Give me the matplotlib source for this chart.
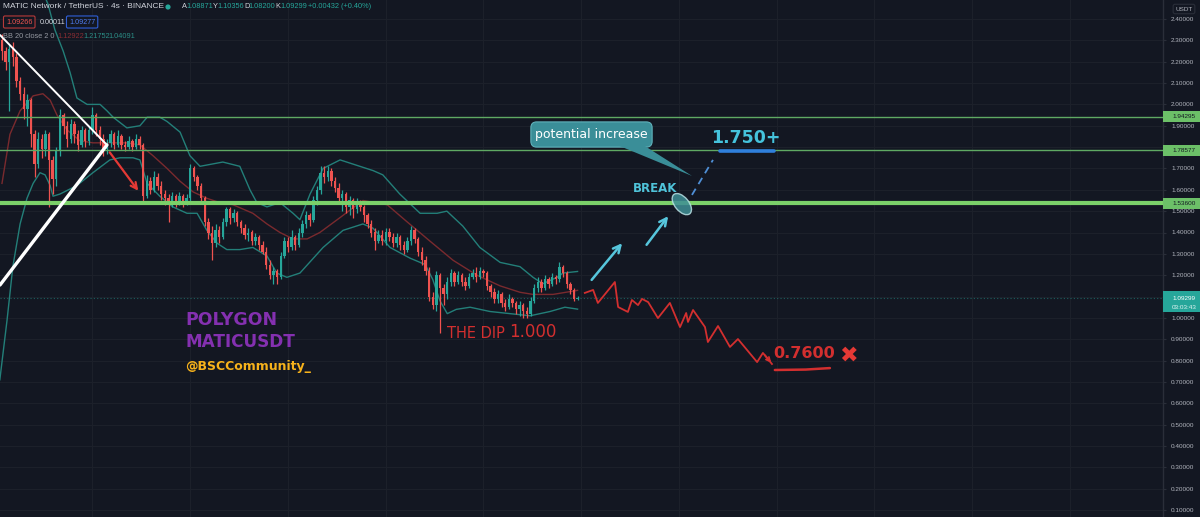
import matplotlib
matplotlib.use('Agg')
import matplotlib.pyplot as plt
import matplotlib.patches as mpatches
import matplotlib.transforms as mtransforms
import numpy as np

W, H, DPI = 1200, 517, 100
PLOT_W = 1163
BG = '#131722'
GREEN_C = '#26a69a'
RED_C = '#ef5350'
UI_FONT = ['Liberation Sans', 'DejaVu Sans']

# ---------------- data (4h candles, MATICUSDT) ----------------
OPEN0 = 2.30
CLOSE = [2.25, 2.20, 2.26, 2.22, 2.11, 2.05, 1.98, 2.02, 1.86, 1.72,
         1.84, 1.79, 1.86, 1.74, 1.65, 1.78, 1.95, 1.90, 1.84, 1.91,
         1.86, 1.81, 1.88, 1.83, 1.88, 1.95, 1.88, 1.84, 1.79, 1.82,
         1.86, 1.81, 1.85, 1.81, 1.80, 1.83, 1.80, 1.84, 1.81, 1.57,
         1.64, 1.60, 1.66, 1.62, 1.58, 1.56, 1.53, 1.57, 1.54, 1.57,
         1.54, 1.56, 1.70, 1.66, 1.62, 1.56, 1.45, 1.40, 1.35, 1.41,
         1.38, 1.45, 1.51, 1.47, 1.49, 1.45, 1.42, 1.39, 1.40, 1.36,
         1.38, 1.34, 1.31, 1.25, 1.20, 1.22, 1.19, 1.29, 1.36, 1.33,
         1.38, 1.34, 1.40, 1.44, 1.48, 1.46, 1.55, 1.60, 1.68, 1.66,
         1.69, 1.64, 1.61, 1.56, 1.58, 1.52, 1.55, 1.51, 1.54, 1.52,
         1.48, 1.44, 1.40, 1.36, 1.39, 1.36, 1.40, 1.38, 1.35, 1.38,
         1.34, 1.32, 1.36, 1.41, 1.37, 1.31, 1.27, 1.22, 1.10, 1.06,
         1.20, 1.14, 1.11, 1.17, 1.21, 1.17, 1.20, 1.17, 1.15, 1.19,
         1.21, 1.19, 1.22, 1.21, 1.15, 1.12, 1.09, 1.11, 1.07, 1.05,
         1.09, 1.07, 1.04, 1.06, 1.03, 1.02, 1.08, 1.14, 1.17, 1.14,
         1.18, 1.16, 1.19, 1.18, 1.24, 1.21, 1.16, 1.13, 1.0887, 1.09299]
HIGH = [2.33, 2.27, 2.28, 2.29, 2.24, 2.13, 2.08, 2.05, 2.03, 1.88,
        1.87, 1.86, 1.88, 1.87, 1.76, 1.80, 1.98, 1.96, 1.92, 1.93,
        1.92, 1.88, 1.90, 1.89, 1.90, 1.99, 1.96, 1.90, 1.86, 1.84,
        1.88, 1.87, 1.88, 1.86, 1.83, 1.85, 1.84, 1.86, 1.85, 1.82,
        1.67, 1.66, 1.69, 1.68, 1.64, 1.60, 1.58, 1.59, 1.58, 1.59,
        1.58, 1.58, 1.72, 1.71, 1.67, 1.63, 1.57, 1.47, 1.43, 1.44,
        1.43, 1.47, 1.52, 1.52, 1.51, 1.50, 1.46, 1.44, 1.42, 1.41,
        1.40, 1.39, 1.36, 1.33, 1.27, 1.24, 1.23, 1.31, 1.38, 1.38,
        1.41, 1.39, 1.42, 1.46, 1.50, 1.49, 1.57, 1.62, 1.71, 1.71,
        1.71, 1.70, 1.66, 1.63, 1.60, 1.59, 1.57, 1.56, 1.56, 1.55,
        1.53, 1.49, 1.46, 1.42, 1.41, 1.41, 1.42, 1.42, 1.40, 1.40,
        1.39, 1.36, 1.38, 1.43, 1.42, 1.38, 1.33, 1.29, 1.24, 1.12,
        1.22, 1.21, 1.16, 1.19, 1.23, 1.22, 1.22, 1.21, 1.19, 1.21,
        1.23, 1.24, 1.24, 1.23, 1.22, 1.16, 1.14, 1.13, 1.12, 1.09,
        1.11, 1.10, 1.08, 1.08, 1.07, 1.05, 1.10, 1.16, 1.19, 1.18,
        1.20, 1.19, 1.21, 1.20, 1.26, 1.25, 1.22, 1.17, 1.14, 1.10356]
LOW = [2.21, 2.16, 1.97, 2.18, 2.08, 2.02, 1.93, 1.90, 1.80, 1.66,
       1.70, 1.75, 1.76, 1.52, 1.58, 1.62, 1.76, 1.86, 1.80, 1.82,
       1.82, 1.78, 1.80, 1.80, 1.81, 1.86, 1.85, 1.81, 1.76, 1.77,
       1.80, 1.79, 1.80, 1.79, 1.78, 1.79, 1.78, 1.79, 1.79, 1.54,
       1.56, 1.58, 1.59, 1.60, 1.55, 1.53, 1.45, 1.52, 1.52, 1.53,
       1.52, 1.53, 1.54, 1.64, 1.60, 1.54, 1.43, 1.37, 1.27, 1.33,
       1.35, 1.37, 1.43, 1.44, 1.45, 1.43, 1.40, 1.37, 1.36, 1.34,
       1.34, 1.32, 1.30, 1.23, 1.18, 1.16, 1.16, 1.18, 1.28, 1.31,
       1.32, 1.32, 1.33, 1.38, 1.42, 1.43, 1.45, 1.53, 1.58, 1.63,
       1.64, 1.62, 1.59, 1.54, 1.50, 1.49, 1.48, 1.47, 1.49, 1.50,
       1.45, 1.42, 1.38, 1.32, 1.35, 1.34, 1.34, 1.36, 1.33, 1.33,
       1.32, 1.30, 1.31, 1.34, 1.35, 1.29, 1.25, 1.20, 1.08, 1.04,
       1.03, 0.93, 1.06, 1.09, 1.15, 1.15, 1.16, 1.15, 1.13, 1.14,
       1.18, 1.17, 1.18, 1.19, 1.13, 1.10, 1.07, 1.07, 1.05, 1.03,
       1.04, 1.05, 1.02, 1.01, 1.00, 1.00, 1.01, 1.07, 1.12, 1.12,
       1.13, 1.14, 1.15, 1.16, 1.17, 1.19, 1.14, 1.11, 1.08, 1.082]

# Bollinger Bands (20, close, 2): (candle index, price)
BB_UP_X = [9.5, 12.7, 14.6, 16.9, 18.8, 20.7, 23.5, 27.1, 29.0, 30.7, 34.5, 38.1, 40.1,
           43.6, 45.6, 49.2, 51.9, 54.7, 61.0, 65.7, 68.5, 70.4, 73.2, 76.8, 80.4, 82.3,
           85.1, 88.7, 93.4, 102.5, 105.2, 109.9, 115.5, 120.2, 122.9, 127.3, 132.0,
           137.6, 143.1, 146.7, 149.4, 153.3, 155.0, 159.0]
BB_UP_Y = [2.60, 2.47, 2.35, 2.25, 2.15, 2.03, 2.00, 2.00, 1.97, 1.94, 1.89, 1.90, 1.94,
           1.94, 1.92, 1.87, 1.76, 1.71, 1.73, 1.71, 1.60, 1.54, 1.52, 1.54, 1.49, 1.46,
           1.58, 1.70, 1.74, 1.69, 1.67, 1.58, 1.49, 1.49, 1.50, 1.43, 1.33,
           1.26, 1.24, 1.19, 1.16, 1.19, 1.21, 1.2175]
BB_MID_X = [0, 2.2, 5.0, 8.6, 11.3, 13.3, 15.2, 18.0, 21.5, 25.1, 29.8, 34.5, 38.1, 41.7,
            45.6, 49.2, 52.8, 56.6, 60.2, 63.8, 69.3, 73.2, 76.8, 80.4, 84.3, 87.8, 93.4,
            99.7, 106.4, 111.9, 118.2, 124.6, 131.2, 137.6, 143.1, 146.7, 152.2, 159.0]
BB_MID_Y = [1.63, 1.86, 1.97, 2.04, 2.05, 2.02, 1.95, 1.88, 1.83, 1.82, 1.82, 1.82, 1.81, 1.76,
            1.70, 1.64, 1.59, 1.56, 1.54, 1.53, 1.49, 1.44, 1.40, 1.37, 1.37, 1.40, 1.47,
            1.55, 1.53, 1.45, 1.36, 1.27, 1.20, 1.15, 1.12, 1.11, 1.11, 1.129]
BB_LO_X = [-0.6, 1.4, 3.0, 5.0, 6.9, 8.6, 10.5, 11.9, 13.3, 14.1, 16.0, 20.7, 25.1, 29.8,
           32.6, 36.2, 38.1, 40.1, 43.6, 47.2, 51.1, 53.9, 56.6, 59.4, 62.1, 65.7, 69.3,
           73.2, 75.9, 78.7, 82.3, 88.7, 94.2, 99.7, 102.5, 107.2, 112.7, 116.9, 119.0,
           121.0, 123.0, 125.5, 129.3, 134.8, 140.3, 145.9, 151.4, 155.5, 159.0]
BB_LO_Y = [0.71, 0.99, 1.24, 1.44, 1.56, 1.63, 1.68, 1.67, 1.62, 1.57, 1.58, 1.62, 1.68, 1.74,
           1.75, 1.75, 1.74, 1.63, 1.57, 1.52, 1.49, 1.49, 1.41, 1.35, 1.32, 1.32, 1.33,
           1.29, 1.21, 1.19, 1.21, 1.33, 1.41, 1.44, 1.42, 1.33, 1.28, 1.25, 1.18,
           1.08, 1.02, 1.04, 1.05, 1.03, 1.02, 1.01, 1.03, 1.05, 1.041]

# horizontal levels
LEVELS = [1.94295, 1.78577, 1.536]
LEVEL_WIDTHS = [1.0, 1.0, 3.0]
LEVEL_COLORS = ['#5fa963', '#5fa963', '#7bd069']
LAST_PRICE = 1.09299
COUNTDOWN = '03:03:43'

YTICKS = [0.1, 0.2, 0.3, 0.4, 0.5, 0.6, 0.7, 0.8, 0.9, 1.0, 1.1, 1.2,
          1.3, 1.4, 1.5, 1.6, 1.7, 1.8, 1.9, 2.0, 2.1, 2.2, 2.3, 2.4]
HIDDEN_TICKS = [1.1, 1.8]   # covered by the price labels on the scale
VGRID = [25, 52, 79, 106, 133, 160, 187, 214, 241, 268, 295, 322]

# drawings (candle index, price)
TRI_DOWN_X, TRI_DOWN_Y = [-0.55, 29.0], [2.325, 1.81]
TRI_UP_X, TRI_UP_Y = [-0.55, 29.0], [1.154, 1.81]
RED_ARROW = [(29.3, 1.786), (38.1, 1.585)]
PROJ_X = [161.0, 163.3, 164.6, 169.3, 170.2, 172.9, 174.0, 175.7, 176.8, 178.5, 181.2,
          184.5, 187.3, 189.0, 189.5, 190.9, 194.2, 195.0, 197.8, 201.1, 203.3, 208.6,
          210.2, 212.7]
PROJ_Y = [1.117, 1.131, 1.070, 1.168, 1.051, 1.028, 1.084, 1.060, 1.089, 1.074, 0.999,
          1.070, 0.957, 1.023, 0.981, 1.037, 0.957, 0.887, 0.962, 0.864, 0.901, 0.793,
          0.836, 0.784]
UP_ARROWS = [((162.4, 1.168), (171.8, 1.360)), ((177.6, 1.332), (184.5, 1.487))]
BREAK_DASH_X, BREAK_DASH_Y = [190.6, 196.4], [1.576, 1.740]
BREAK_CENTER = (187.8, 1.533)
CALLOUT_BOX = (146.1, 1.800, 33.5, 0.118)   # x, y, width, height
CALLOUT_TAIL = [(170.5, 1.806), (177.5, 1.806), (190.6, 1.665)]
TARGET_UP = (196.0, 1.843)
TARGET_UP_LINE_X, TARGET_UP_LINE_Y = [198.3, 213.3], [1.780, 1.780]
TARGET_DN = (213.0, 0.831)
TARGET_DN_LINE_X, TARGET_DN_LINE_Y = [213.5, 222.0, 228.7], [0.756, 0.758, 0.765]

# ---------------- figure ----------------
fig = plt.figure(figsize=(W / DPI, H / DPI), dpi=DPI, facecolor=BG)
ax = fig.add_axes([0, 0, PLOT_W / W, 1])
ax.set_facecolor(BG)
XMIN = -0.55
XMAX = XMIN + PLOT_W / 3.62
YMAX = 2.40 + 19 / 213.5
YMIN = 2.40 - (H - 19) / 213.5
ax.set_xlim(XMIN, XMAX)
ax.set_ylim(YMIN, YMAX)

# grid
for p in YTICKS:
    ax.axhline(p, color='#1c202a', lw=0.8, zorder=0)
for v in VGRID:
    ax.axvline(v, color='#1c202a', lw=0.8, zorder=0)

# bollinger
ax.plot(BB_UP_X, BB_UP_Y, color='#237f79', lw=1.0, zorder=2)
ax.plot(BB_LO_X, BB_LO_Y, color='#237f79', lw=1.0, zorder=2)
ax.plot(BB_MID_X, BB_MID_Y, color='#7a2a2e', lw=1.0, zorder=2)

# candles
n = len(CLOSE)
idx = np.arange(n)
opens = [OPEN0] + CLOSE[:-1]
cols = [GREEN_C if c >= o else RED_C for o, c in zip(opens, CLOSE)]
lo_w = [min(l, o, c) for l, o, c in zip(LOW, opens, CLOSE)]
hi_w = [max(h, o, c) for h, o, c in zip(HIGH, opens, CLOSE)]
ax.vlines(idx, lo_w, hi_w, colors=cols, lw=0.9, zorder=3)
bottoms = [min(o, c) for o, c in zip(opens, CLOSE)]
heights = [max(abs(c - o), 0.004) for o, c in zip(opens, CLOSE)]
ax.bar(idx, heights, bottom=bottoms, width=0.66, color=cols, edgecolor='none', zorder=4)

# levels
for lv, lw_, lc in zip(LEVELS, LEVEL_WIDTHS, LEVEL_COLORS):
    ax.axhline(lv, color=lc, lw=lw_, zorder=5)
ax.axhline(LAST_PRICE, color='#26a69a', lw=0.8, ls=(0, (1, 2)), alpha=0.5, zorder=1)

# white triangle lines
ax.plot(TRI_DOWN_X, TRI_DOWN_Y, color='white', lw=1.4, zorder=6, solid_capstyle='round')
ax.plot(TRI_UP_X, TRI_UP_Y, color='white', lw=2.4, zorder=6, solid_capstyle='round')

# red arrow
ax.annotate('', xy=RED_ARROW[1], xytext=RED_ARROW[0],
            arrowprops=dict(arrowstyle='->', color='#e53935', lw=1.6, mutation_scale=11),
            zorder=7)

# projection path
ax.plot(PROJ_X, PROJ_Y, color='#d32f2f', lw=1.3, zorder=6)
ax.annotate('', xy=(PROJ_X[-1] + 0.3, PROJ_Y[-1] - 0.004), xytext=(PROJ_X[-2], PROJ_Y[-2]),
            arrowprops=dict(arrowstyle='->', color='#d32f2f', lw=1.3, mutation_scale=7))

# up arrows
for s, e in UP_ARROWS:
    ax.annotate('', xy=e, xytext=s,
                arrowprops=dict(arrowstyle='->', color='#56c6dc', lw=1.8, mutation_scale=13),
                zorder=7)

# dashed break line
ax.plot(BREAK_DASH_X, BREAK_DASH_Y, color='#4f8fd6', lw=1.3, ls=(0, (4, 3)), zorder=6)

# break ellipse (in pixel units)
etr = mtransforms.ScaledTranslation(BREAK_CENTER[0], BREAK_CENTER[1], ax.transData)
ell = mpatches.Ellipse((0, 0), 25, 14, angle=-50, transform=mtransforms.IdentityTransform() + etr,
                       facecolor='#3f8f95', edgecolor='#b8e0e3', lw=1.0, alpha=0.85, zorder=8)
ax.add_patch(ell)
ax.text(180.5, 1.604, 'BREAK', color='#4fc3d9', fontsize=8.5, fontweight='bold',
        ha='center', va='center', zorder=9, family='DejaVu Sans')

# callout
asp = (PLOT_W / (XMAX - XMIN)) / (H / (YMAX - YMIN))
cx, cy, cw, ch = CALLOUT_BOX
box = mpatches.FancyBboxPatch((cx, cy), cw, ch,
                              boxstyle='round,pad=0,rounding_size=1.6',
                              mutation_aspect=asp, facecolor='#3a8e98',
                              edgecolor='#5fb1ba', lw=0.8, zorder=9)
ax.add_patch(box)
tail = mpatches.Polygon(CALLOUT_TAIL, closed=True, facecolor='#3a8e98', edgecolor='none', zorder=9)
ax.add_patch(tail)
ax.text(cx + cw / 2, cy + ch / 2, 'potential increase', color='white', fontsize=9,
        ha='center', va='center', zorder=10, family='DejaVu Sans')

# targets
ax.text(TARGET_UP[0], TARGET_UP[1], '1.750+', color='#45c3dc', fontsize=12.5,
        fontweight='bold', ha='left', va='center', zorder=10, family='DejaVu Sans')
ax.plot(TARGET_UP_LINE_X, TARGET_UP_LINE_Y, color='#2f7fdc', lw=2.6, zorder=8,
        solid_capstyle='round')
ax.text(TARGET_DN[0], TARGET_DN[1], '0.7600', color='#d32f2f', fontsize=11.5,
        fontweight='bold', ha='left', va='center', zorder=10, family='DejaVu Sans')
ax.plot(TARGET_DN_LINE_X, TARGET_DN_LINE_Y, color='#d32f2f', lw=1.8, zorder=8,
        solid_capstyle='round')
ax.text(233.7, 0.824, '\u2716', color='#e53935', fontsize=16, ha='center', va='center',
        zorder=10, family='DejaVu Sans')

# dip label
ax.text(122.8, 0.929, 'THE DIP', color='#d32f2f', fontsize=10.5, ha='left', va='center',
        zorder=10, family='DejaVu Sans')
ax.text(140.0, 0.932, '1.000', color='#d32f2f', fontsize=12, ha='left', va='center',
        zorder=10, family='DejaVu Sans')

# branding
ax.text(50.6, 0.988, 'POLYGON', color='#8430b0', fontsize=12.5, fontweight='bold',
        ha='left', va='center', zorder=10, family='DejaVu Sans')
ax.text(50.6, 0.889, 'MATICUSDT', color='#8430b0', fontsize=12.2, fontweight='bold',
        ha='left', va='center', zorder=10, family='DejaVu Sans')
ax.text(50.6, 0.772, '@BSCCommunity_', color='#f7b21b', fontsize=9.0, fontweight='bold',
        ha='left', va='center', zorder=10, family='DejaVu Sans')

# axes styling
for s in ['top', 'left', 'bottom']:
    ax.spines[s].set_visible(False)
ax.spines['right'].set_color('#2a2e39')
ax.spines['right'].set_linewidth(1.0)
ax.set_xticks([])
ax.yaxis.tick_right()
ax.set_yticks(YTICKS)
ax.set_yticklabels(['' if any(abs(t - h) < 1e-9 for h in HIDDEN_TICKS) else '%.5f' % t
                    for t in YTICKS], family=UI_FONT)
ax.tick_params(axis='y', colors='#2a2e39', labelcolor='#b2b5be', labelsize=4.6,
               length=2.2, pad=3.6)

# price axis labels
trb = mtransforms.blended_transform_factory(ax.transAxes, ax.transData)
x1 = W / PLOT_W
hpx = 11 / 213.5
xc = (1.0 + x1) / 2 + 0.002
for lv in LEVELS:
    r = mpatches.Rectangle((1.0, lv - hpx / 2), x1 - 1.0, hpx, transform=trb,
                           facecolor='#6cc068', edgecolor='none', clip_on=False, zorder=20)
    ax.add_patch(r)
    ax.text(xc, lv, '%.5f' % lv, transform=trb, color='#131722',
            fontsize=4.6, ha='center', va='center', clip_on=False, zorder=21, family=UI_FONT)
r = mpatches.Rectangle((1.0, LAST_PRICE - 14 / 213.5), x1 - 1.0, 21 / 213.5, transform=trb,
                       facecolor='#26a69a', edgecolor='none', clip_on=False, zorder=20)
ax.add_patch(r)
ax.text(xc, LAST_PRICE, '%.5f' % LAST_PRICE, transform=trb, color='white',
        fontsize=4.6, ha='center', va='center', clip_on=False, zorder=21, family=UI_FONT)
ax.text(xc, LAST_PRICE - 9 / 213.5, COUNTDOWN, transform=trb, color='#dff3f1',
        fontsize=4.6, ha='center', va='center', clip_on=False, zorder=21, family=UI_FONT)

# USDT box
fig.text(1184 / W, 1 - 9 / H, 'USDT', color='#b2b5be', fontsize=4.6, ha='center', va='center',
         family=UI_FONT,
         bbox=dict(boxstyle='round,pad=0.35,rounding_size=0.3', facecolor=BG, edgecolor='#2a2e39', lw=0.8))

# legend (top-left)
def ftxt(x, y, s, c, fs=5.4, **kw):
    fig.text(x / W, 1 - y / H, s, color=c, fontsize=fs, ha='left', va='center',
             family=UI_FONT, **kw)

ftxt(3, 7, 'MATIC Network / TetherUS \u00b7 4s \u00b7 BINANCE', '#d1d4dc', fs=6.0)
dot_tr = mtransforms.ScaledTranslation(168 / W, 1 - 7 / H, fig.transFigure)
fig.patches.append(mpatches.Circle((0, 0), 2.6, transform=mtransforms.IdentityTransform() + dot_tr,
                                   facecolor='#26a69a', edgecolor='none'))
pieces = [(182, 'A', '#d1d4dc'), (186, '1.08871', GREEN_C), (213, 'Y', '#d1d4dc'),
          (217, '1.10356', GREEN_C), (244, 'D', '#d1d4dc'), (248, '1.08200', GREEN_C),
          (275, 'K', '#d1d4dc'), (280, '1.09299', GREEN_C), (308, '+0.00432 (+0.40%)', GREEN_C)]
for x, s, c in pieces:
    ftxt(x, 7, s, c, fs=5.3)
ftxt(6, 22, '1.09266', '#ef5350', fs=5.2,
     bbox=dict(boxstyle='round,pad=0.35,rounding_size=0.2', facecolor=BG, edgecolor='#b83a3a', lw=0.8))
ftxt(40, 22, '0.00011', '#d1d4dc', fs=5.2)
ftxt(69, 22, '1.09277', '#4f7df0', fs=5.2,
     bbox=dict(boxstyle='round,pad=0.35,rounding_size=0.2', facecolor=BG, edgecolor='#2f5fd8', lw=0.8))
ftxt(3, 36, 'BB 20 close 2 0', '#9598a1', fs=5.3)
ftxt(57, 36, '1.12922', '#8a2d33', fs=5.3)
ftxt(83, 36, '1.21752', '#2b8d86', fs=5.3)
ftxt(108, 36, '1.04091', '#2b8d86', fs=5.3)

fig.savefig('out.png', dpi=DPI, facecolor=BG)
